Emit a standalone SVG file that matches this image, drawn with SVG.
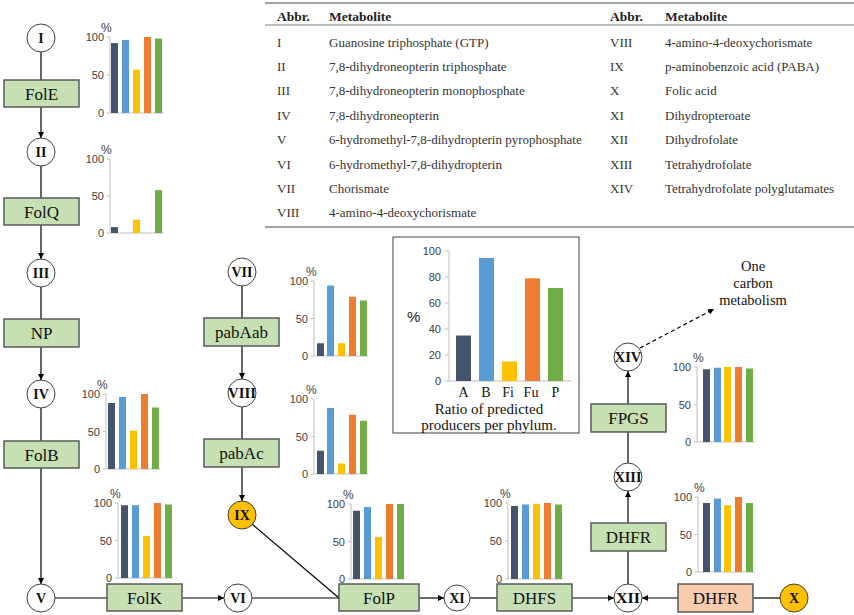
<svg xmlns="http://www.w3.org/2000/svg" width="854" height="615" viewBox="0 0 854 615">
<defs>
<marker id="ah" viewBox="0 0 8 8" refX="8" refY="4" markerWidth="6" markerHeight="6" markerUnits="userSpaceOnUse" orient="auto">
<path d="M0,0 L8,4 L0,8 z" fill="#000"/>
</marker>
</defs>
<style>
.bg{fill:#fff}
.c{fill:#fff;stroke:#404040;stroke-width:1}
.co{fill:#ffc000;stroke:#404040;stroke-width:1}
.cl{font-family:"Liberation Serif",serif;font-weight:bold;font-size:14px;fill:#111;text-anchor:middle}
.b{fill:#c6e0b4;stroke:#595959;stroke-width:1.5}
.bo{fill:#f8cbad;stroke:#595959;stroke-width:1.5}
.bl{font-family:"Liberation Serif",serif;font-size:17px;fill:#111;text-anchor:middle}
.ln{stroke:#000;stroke-width:1.2;fill:none}
.ax{stroke:#bfbfbf;stroke-width:1;fill:none}
.tk{font-family:"Liberation Sans",sans-serif;font-size:11px;fill:#404040;text-anchor:end}
.pc{font-family:"Liberation Sans",sans-serif;font-size:12px;fill:#404040}
.k1{fill:#44546a}.k2{fill:#5b9bd5}.k3{fill:#ffc000}.k4{fill:#ed7d31}.k5{fill:#70ad47}
.tt{font-family:"Liberation Serif",serif;font-size:13px;fill:#333}
.th{font-family:"Liberation Serif",serif;font-size:13.5px;font-weight:bold;fill:#222}
.tl{stroke:#808080;fill:none}
.sf{font-family:"Liberation Serif",serif;fill:#111}
</style>
<rect class="bg" x="0" y="0" width="854" height="615"/>

<!-- Table -->
<g id="table">
<line class="tl" x1="265" y1="3" x2="854" y2="3" stroke-width="1.5"/>
<line class="tl" x1="265" y1="25" x2="854" y2="25" stroke-width="1"/>
<line class="tl" x1="265" y1="227" x2="854" y2="227" stroke-width="1.5"/>
<text class="th" x="277" y="21">Abbr.</text>
<text class="th" x="329" y="21">Metabolite</text>
<text class="th" x="610" y="21">Abbr.</text>
<text class="th" x="665" y="21">Metabolite</text>
<text class="tt" x="277" y="47">I</text><text class="tt" x="329" y="47">Guanosine triphosphate (GTP)</text>
<text class="tt" x="277" y="71">II</text><text class="tt" x="329" y="71">7,8-dihydroneopterin triphosphate</text>
<text class="tt" x="277" y="95">III</text><text class="tt" x="329" y="95">7,8-dihydroneopterin monophosphate</text>
<text class="tt" x="277" y="120">IV</text><text class="tt" x="329" y="120">7,8-dihydroneopterin</text>
<text class="tt" x="277" y="144">V</text><text class="tt" x="329" y="144">6-hydromethyl-7,8-dihydropterin pyrophosphate</text>
<text class="tt" x="277" y="169">VI</text><text class="tt" x="329" y="169">6-hydromethyl-7,8-dihydropterin</text>
<text class="tt" x="277" y="193">VII</text><text class="tt" x="329" y="193">Chorismate</text>
<text class="tt" x="277" y="217">VIII</text><text class="tt" x="329" y="217">4-amino-4-deoxychorismate</text>
<text class="tt" x="610" y="47">VIII</text><text class="tt" x="665" y="47">4-amino-4-deoxychorismate</text>
<text class="tt" x="610" y="71">IX</text><text class="tt" x="665" y="71">p-aminobenzoic acid (PABA)</text>
<text class="tt" x="610" y="95">X</text><text class="tt" x="665" y="95">Folic acid</text>
<text class="tt" x="610" y="120">XI</text><text class="tt" x="665" y="120">Dihydropteroate</text>
<text class="tt" x="610" y="144">XII</text><text class="tt" x="665" y="144">Dihydrofolate</text>
<text class="tt" x="610" y="169">XIII</text><text class="tt" x="665" y="169">Tetrahydrofolate</text>
<text class="tt" x="610" y="193">XIV</text><text class="tt" x="665" y="193">Tetrahydrofolate polyglutamates</text>
</g>

<!-- Connectors -->
<g id="connectors">
<line class="ln" x1="41" y1="52" x2="41" y2="80"/>
<line class="ln" x1="41" y1="107" x2="41" y2="138" marker-end="url(#ah)"/>
<line class="ln" x1="41" y1="166" x2="41" y2="198"/>
<line class="ln" x1="41" y1="225" x2="41" y2="259" marker-end="url(#ah)"/>
<line class="ln" x1="41" y1="287" x2="41" y2="319"/>
<line class="ln" x1="41" y1="347" x2="41" y2="380" marker-end="url(#ah)"/>
<line class="ln" x1="41" y1="408" x2="41" y2="441"/>
<line class="ln" x1="41" y1="468" x2="41" y2="584" marker-end="url(#ah)"/>
<line class="ln" x1="55" y1="598" x2="107" y2="598"/>
<line class="ln" x1="182" y1="598" x2="224" y2="598" marker-end="url(#ah)"/>
<line class="ln" x1="252" y1="598" x2="339" y2="598"/>
<line class="ln" x1="252" y1="524" x2="339" y2="598"/>
<line class="ln" x1="419" y1="598" x2="444" y2="598" marker-end="url(#ah)"/>
<line class="ln" x1="470" y1="598" x2="497" y2="598"/>
<line class="ln" x1="572" y1="598" x2="614" y2="598" marker-end="url(#ah)"/>
<line class="ln" x1="780" y1="598" x2="753" y2="598"/>
<line class="ln" x1="678" y1="598" x2="642" y2="598" marker-end="url(#ah)"/>
<line class="ln" x1="628" y1="584" x2="628" y2="551"/>
<line class="ln" x1="628" y1="523" x2="628" y2="491" marker-end="url(#ah)"/>
<line class="ln" x1="628" y1="463" x2="628" y2="432"/>
<line class="ln" x1="628" y1="404" x2="628" y2="371" marker-end="url(#ah)"/>
<line class="ln" x1="640" y1="348" x2="714" y2="309" stroke-dasharray="4,3" marker-end="url(#ah)"/>
<line class="ln" x1="242" y1="286" x2="242" y2="318"/>
<line class="ln" x1="242" y1="346" x2="242" y2="379" marker-end="url(#ah)"/>
<line class="ln" x1="242" y1="407" x2="242" y2="439"/>
<line class="ln" x1="242" y1="467" x2="242" y2="501" marker-end="url(#ah)"/>
</g>

<!-- Metabolite nodes -->
<g id="n-I"><circle class="c" cx="41" cy="38" r="14"/><text class="cl" x="41" y="43">I</text></g>
<g id="n-II"><circle class="c" cx="41" cy="152" r="14"/><text class="cl" x="41" y="157">II</text></g>
<g id="n-III"><circle class="c" cx="41" cy="273" r="14"/><text class="cl" x="41" y="278">III</text></g>
<g id="n-IV"><circle class="c" cx="41" cy="394" r="14"/><text class="cl" x="41" y="399">IV</text></g>
<g id="n-V"><circle class="c" cx="41" cy="598" r="14"/><text class="cl" x="41" y="603">V</text></g>
<g id="n-VI"><circle class="c" cx="238" cy="598" r="14"/><text class="cl" x="238" y="603">VI</text></g>
<g id="n-VII"><circle class="c" cx="242" cy="272" r="14"/><text class="cl" x="242" y="277">VII</text></g>
<g id="n-VIII"><circle class="c" cx="242" cy="393" r="14"/><text class="cl" x="242" y="398" textLength="28" lengthAdjust="spacingAndGlyphs">VIII</text></g>
<g id="n-IX"><circle class="co" cx="242" cy="515" r="14"/><text class="cl" x="242" y="520">IX</text></g>
<g id="n-X"><circle class="co" cx="794" cy="598" r="14"/><text class="cl" x="794" y="603">X</text></g>
<g id="n-XI"><circle class="c" cx="457" cy="598" r="13"/><text class="cl" x="457" y="603">XI</text></g>
<g id="n-XII"><circle class="c" cx="628" cy="598" r="14"/><text class="cl" x="628" y="603" textLength="24" lengthAdjust="spacingAndGlyphs">XII</text></g>
<g id="n-XIII"><circle class="c" cx="628" cy="477" r="14"/><text class="cl" x="628" y="482" textLength="27" lengthAdjust="spacingAndGlyphs">XIII</text></g>
<g id="n-XIV"><circle class="c" cx="628" cy="357" r="14"/><text class="cl" x="628" y="362" textLength="27" lengthAdjust="spacingAndGlyphs">XIV</text></g>

<!-- Enzyme nodes -->
<g id="e-FolE"><rect class="b" x="4" y="80" width="75" height="27"/><text class="bl" x="41.5" y="100">FolE</text></g>
<g id="e-FolQ"><rect class="b" x="4" y="198" width="75" height="27"/><text class="bl" x="41.5" y="218">FolQ</text></g>
<g id="e-NP"><rect class="b" x="4" y="319" width="75" height="28"/><text class="bl" x="41.5" y="339">NP</text></g>
<g id="e-FolB"><rect class="b" x="4" y="441" width="75" height="27"/><text class="bl" x="41.5" y="461">FolB</text></g>
<g id="e-FolK"><rect class="b" x="107" y="584" width="75" height="27"/><text class="bl" x="144.5" y="604">FolK</text></g>
<g id="e-pabAab"><rect class="b" x="204" y="318" width="75" height="28"/><text class="bl" x="241.5" y="338">pabAab</text></g>
<g id="e-pabAc"><rect class="b" x="204" y="439" width="75" height="28"/><text class="bl" x="241.5" y="459">pabAc</text></g>
<g id="e-FolP"><rect class="b" x="339" y="584" width="80" height="27"/><text class="bl" x="379" y="604">FolP</text></g>
<g id="e-DHFS"><rect class="b" x="497" y="584" width="75" height="27"/><text class="bl" x="534.5" y="604">DHFS</text></g>
<g id="e-DHFR2"><rect class="bo" x="678" y="584" width="75" height="28"/><text class="bl" x="715.5" y="604">DHFR</text></g>
<g id="e-DHFR1"><rect class="b" x="591" y="523" width="75" height="28"/><text class="bl" x="628.5" y="543">DHFR</text></g>
<g id="e-FPGS"><rect class="b" x="591" y="404" width="75" height="28"/><text class="bl" x="628.5" y="424">FPGS</text></g>

<g id="label-onecarbon">
<text class="sf" x="753" y="271" font-size="14.5" text-anchor="middle">One</text>
<text class="sf" x="753" y="288" font-size="14.5" text-anchor="middle">carbon</text>
<text class="sf" x="753" y="305" font-size="14.5" text-anchor="middle">metabolism</text>
</g>

<!-- Mini charts -->
<g id="chart-FolE">
<path class="ax" d="M107,37H110V113H164M107,75H110M107,113H110"/>
<text class="tk" x="104" y="41">100</text><text class="tk" x="104" y="79">50</text><text class="tk" x="104" y="117">0</text>
<text class="pc" x="101" y="32">%</text>
<rect class="k1" x="111" y="43.1" width="7" height="69.9"/>
<rect class="k2" x="122" y="40" width="7" height="73"/>
<rect class="k3" x="133" y="69.7" width="7" height="43.3"/>
<rect class="k4" x="144" y="37" width="7" height="76"/>
<rect class="k5" x="155" y="38.5" width="7" height="74.5"/>
</g>
<g id="chart-FolQ">
<path class="ax" d="M107,159H110V233H164M107,196H110M107,233H110"/>
<text class="tk" x="104" y="163">100</text><text class="tk" x="104" y="200">50</text><text class="tk" x="104" y="237">0</text>
<text class="pc" x="101" y="154">%</text>
<rect class="k1" x="111" y="227.1" width="7" height="5.9"/>
<rect class="k3" x="133" y="219.7" width="7" height="13.3"/>
<rect class="k5" x="155" y="190.1" width="7" height="42.9"/>
</g>
<g id="chart-FolB">
<path class="ax" d="M103,394H106V469H160M103,431.5H106M103,469H106"/>
<text class="tk" x="100" y="398">100</text><text class="tk" x="100" y="435.5">50</text><text class="tk" x="100" y="473">0</text>
<text class="pc" x="97" y="389">%</text>
<rect class="k1" x="108" y="403" width="7" height="66"/>
<rect class="k2" x="119" y="397" width="7" height="72"/>
<rect class="k3" x="130" y="430.7" width="7" height="38.3"/>
<rect class="k4" x="141" y="394" width="7" height="75"/>
<rect class="k5" x="152" y="407.5" width="7" height="61.5"/>
</g>
<g id="chart-FolK">
<path class="ax" d="M115,503H118V578H173M115,540.5H118M115,578H118"/>
<text class="tk" x="112" y="507">100</text><text class="tk" x="112" y="544.5">50</text><text class="tk" x="112" y="582">0</text>
<text class="pc" x="110" y="498">%</text>
<rect class="k1" x="121" y="505.25" width="7" height="72.75"/>
<rect class="k2" x="132" y="505.25" width="7" height="72.75"/>
<rect class="k3" x="143" y="536" width="7" height="42"/>
<rect class="k4" x="154" y="503" width="7" height="75"/>
<rect class="k5" x="165" y="504.5" width="7" height="73.5"/>
</g>
<g id="chart-pabAab">
<path class="ax" d="M311,281H314V356H368M311,318.5H314M311,356H314"/>
<text class="tk" x="308" y="285">100</text><text class="tk" x="308" y="322.5">50</text><text class="tk" x="308" y="360">0</text>
<text class="pc" x="306" y="276">%</text>
<rect class="k1" x="317" y="343.25" width="7" height="12.75"/>
<rect class="k2" x="327" y="285.5" width="7" height="70.5"/>
<rect class="k3" x="338" y="343.25" width="7" height="12.75"/>
<rect class="k4" x="349" y="296.75" width="7" height="59.25"/>
<rect class="k5" x="360" y="300.5" width="7" height="55.5"/>
</g>
<g id="chart-pabAc">
<path class="ax" d="M311,399H314V474H368M311,436.5H314M311,474H314"/>
<text class="tk" x="308" y="403">100</text><text class="tk" x="308" y="440.5">50</text><text class="tk" x="308" y="478">0</text>
<text class="pc" x="306" y="394">%</text>
<rect class="k1" x="317" y="450.75" width="7" height="23.25"/>
<rect class="k2" x="327" y="408" width="7" height="66"/>
<rect class="k3" x="338" y="463.5" width="7" height="10.5"/>
<rect class="k4" x="349" y="414.75" width="7" height="59.25"/>
<rect class="k5" x="360" y="420.75" width="7" height="53.25"/>
</g>
<g id="chart-FolP">
<path class="ax" d="M348,504H351V579H405M348,541.5H351M348,579H351"/>
<text class="tk" x="345" y="508">100</text><text class="tk" x="345" y="545.5">50</text><text class="tk" x="345" y="583">0</text>
<text class="pc" x="343" y="499">%</text>
<rect class="k1" x="353" y="510.75" width="7" height="68.25"/>
<rect class="k2" x="364" y="507" width="7" height="72"/>
<rect class="k3" x="375" y="537" width="7" height="42"/>
<rect class="k4" x="386" y="504" width="7" height="75"/>
<rect class="k5" x="397" y="504" width="7" height="75"/>
</g>
<g id="chart-DHFS">
<path class="ax" d="M505,503H508V579H563M505,541H508M505,579H508"/>
<text class="tk" x="502" y="507">100</text><text class="tk" x="502" y="545">50</text><text class="tk" x="502" y="583">0</text>
<text class="pc" x="500" y="498">%</text>
<rect class="k1" x="511" y="506" width="7" height="73"/>
<rect class="k2" x="522" y="504.5" width="7" height="74.5"/>
<rect class="k3" x="533" y="503.8" width="7" height="75.2"/>
<rect class="k4" x="544" y="503" width="7" height="76"/>
<rect class="k5" x="555" y="504.5" width="7" height="74.5"/>
</g>
<g id="chart-FPGS">
<path class="ax" d="M694,367H697V442H755M694,404.5H697M694,442H697"/>
<text class="tk" x="691" y="371">100</text><text class="tk" x="691" y="408.5">50</text><text class="tk" x="691" y="446">0</text>
<text class="pc" x="693" y="362">%</text>
<rect class="k1" x="703" y="369.25" width="7" height="72.75"/>
<rect class="k2" x="714" y="367.75" width="7" height="74.25"/>
<rect class="k3" x="724" y="367" width="7" height="75"/>
<rect class="k4" x="735" y="367" width="7" height="75"/>
<rect class="k5" x="746" y="368.5" width="7" height="73.5"/>
</g>
<g id="chart-DHFR">
<path class="ax" d="M695,497H698V572H755M695,534.5H698M695,572H698"/>
<text class="tk" x="692" y="501">100</text><text class="tk" x="692" y="538.5">50</text><text class="tk" x="692" y="576">0</text>
<text class="pc" x="694" y="492">%</text>
<rect class="k1" x="703" y="503" width="7" height="69"/>
<rect class="k2" x="714" y="498.5" width="7" height="73.5"/>
<rect class="k3" x="724" y="505.25" width="7" height="66.75"/>
<rect class="k4" x="735" y="497" width="7" height="75"/>
<rect class="k5" x="746" y="503" width="7" height="69"/>
</g>

<!-- Inset chart -->
<g id="inset">
<rect x="393" y="237" width="186" height="196" fill="#fff" stroke="#404040" stroke-width="1"/>
<path class="ax" d="M445,251H449V381H571M445,277H449M445,303H449M445,329H449M445,355H449M445,381H449"/>
<text class="tk" x="441" y="255">100</text>
<text class="tk" x="441" y="281">80</text>
<text class="tk" x="441" y="307">60</text>
<text class="tk" x="441" y="333">40</text>
<text class="tk" x="441" y="359">20</text>
<text class="tk" x="441" y="385">0</text>
<text x="407" y="322" font-family="Liberation Sans,sans-serif" font-size="15" fill="#222">%</text>
<rect class="k1" x="456" y="335.5" width="15" height="45.5"/>
<rect class="k2" x="479" y="258" width="15" height="123"/>
<rect class="k3" x="502" y="361.5" width="15" height="19.5"/>
<rect class="k4" x="525" y="278.3" width="15" height="102.7"/>
<rect class="k5" x="548" y="288" width="15" height="93"/>
<text class="sf" x="463.5" y="397" font-size="14" text-anchor="middle">A</text>
<text class="sf" x="486" y="397" font-size="14" text-anchor="middle">B</text>
<text class="sf" x="508" y="397" font-size="14" text-anchor="middle">Fi</text>
<text class="sf" x="531" y="397" font-size="14" text-anchor="middle">Fu</text>
<text class="sf" x="555.5" y="397" font-size="14" text-anchor="middle">P</text>
<text class="sf" x="489" y="414" font-size="15" text-anchor="middle">Ratio of predicted</text>
<text class="sf" x="489" y="430" font-size="15" text-anchor="middle">producers per phylum.</text>
</g>
</svg>
